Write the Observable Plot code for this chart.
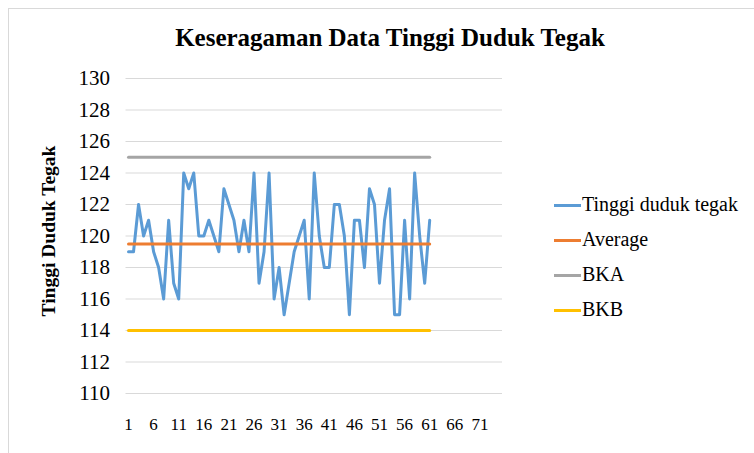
<!DOCTYPE html>
<html>
<head>
<meta charset="utf-8">
<script src="https://cdn.jsdelivr.net/npm/d3@7"></script>
<script src="https://cdn.jsdelivr.net/npm/@observablehq/plot@0.6"></script>
<style>
  html, body { margin: 0; padding: 0; background: #fff; }
  body { width: 754px; height: 453px; position: relative; overflow: hidden; }
  .serif, .serif * { font-family: "Liberation Serif", "DejaVu Serif", serif !important; }
  #frame { position: absolute; left: 8px; top: 8px; width: 760px; height: 460px; border-top: 1.5px solid #d9d9d9; border-left: 1.5px solid #d9d9d9; box-sizing: border-box; }
  #title { position: absolute; left: 0; width: 780px; top: 24px; text-align: center; font-weight: bold; font-size: 25px; color: #000; }
  #ylabel { position: absolute; left: 49px; top: 231px; transform: translate(-50%, -50%) rotate(-90deg); white-space: nowrap; font-weight: bold; font-size: 19.5px; color: #000; }
  #chart { position: absolute; left: 0; top: 0; }
  .legend { position: absolute; left: 554px; font-size: 20px; color: #000; white-space: nowrap; }
  .legend span.sw { display: inline-block; width: 27px; height: 3px; vertical-align: middle; margin-right: 1px; position: relative; top: -1px; }
</style>
</head>
<body>
<div id="frame"></div>
<div id="title" class="serif">Keseragaman Data Tinggi Duduk Tegak</div>
<div id="ylabel" class="serif">Tinggi Duduk Tegak</div>
<div id="chart" class="serif"></div>
<div id="legend" class="serif"></div>
<script>
// Data
const categories = d3.range(1, 62); // observation numbers 1..61
const tinggi = [119,119,122,120,121,119,118,116,121,117,
                116,124,123,124,120,120,121,120,119,123,
                122,121,119,121,119,124,117,119,124,116,
                118,115,117,119,120,121,116,124,120,118,
                118,122,122,120,115,121,121,118,123,122,
                117,121,123,115,115,121,116,124,120,117,121];
const average = 119.5;
const bka = 125;
const bkb = 114;
const xTicks = [1,6,11,16,21,26,31,36,41,46,51,56,61,66,71];
const yTicks = [110,112,114,116,118,120,122,124,126,128,130];
const seriesNames = ["Tinggi duduk tegak", "Average", "BKA", "BKB"];
const seriesColors = ["#5B9BD5", "#ED7D31", "#A5A5A5", "#FFC000"];

const mainData = categories.map((c, i) => ({x: c, y: tinggi[i]}));
const ends = [categories[0], categories[categories.length - 1]];
const hline = v => ends.map(x => ({x, y: v}));
const FONT = '"Liberation Serif", "DejaVu Serif", serif';

const plot = Plot.plot({
  width: 754,
  height: 453,
  marginLeft: 125.5,
  marginRight: 252,
  marginTop: 78,
  marginBottom: 60,
  style: { fontFamily: FONT, background: "transparent", overflow: "visible" },
  x: { domain: [0.5, 75.5], ticks: xTicks, label: null },
  y: { domain: [110, 130], ticks: yTicks, label: null },
  marks: [
    Plot.gridY(yTicks, { stroke: "#d9d9d9", strokeOpacity: 1, strokeWidth: 1 }),
    Plot.axisY({ ticks: yTicks, tickSize: 0, tickPadding: 16, fontSize: 21, fontFamily: FONT, fill: "#000", label: null }),
    Plot.axisX({ ticks: xTicks, tickSize: 0, tickPadding: 24, fontSize: 17, fontFamily: FONT, fill: "#000", label: null, tickFormat: d => String(d) }),
    Plot.line(mainData, { x: "x", y: "y", stroke: seriesColors[0], strokeWidth: 3, strokeLinejoin: "round", strokeLinecap: "round" }),
    Plot.line(hline(average), { x: "x", y: "y", stroke: seriesColors[1], strokeWidth: 3, strokeLinecap: "round" }),
    Plot.line(hline(bka), { x: "x", y: "y", stroke: seriesColors[2], strokeWidth: 3, strokeLinecap: "round" }),
    Plot.line(hline(bkb), { x: "x", y: "y", stroke: seriesColors[3], strokeWidth: 3, strokeLinecap: "round" })
  ]
});
document.getElementById("chart").appendChild(plot);

const legendTops = [193, 228, 263, 298];
const legend = document.getElementById("legend");
seriesNames.forEach((name, i) => {
  const d = document.createElement("div");
  d.className = "legend";
  d.style.top = legendTops[i] + "px";
  d.innerHTML = `<span class="sw" style="background:${seriesColors[i]}"></span>${name}`;
  legend.appendChild(d);
});
</script>
</body>
</html>
